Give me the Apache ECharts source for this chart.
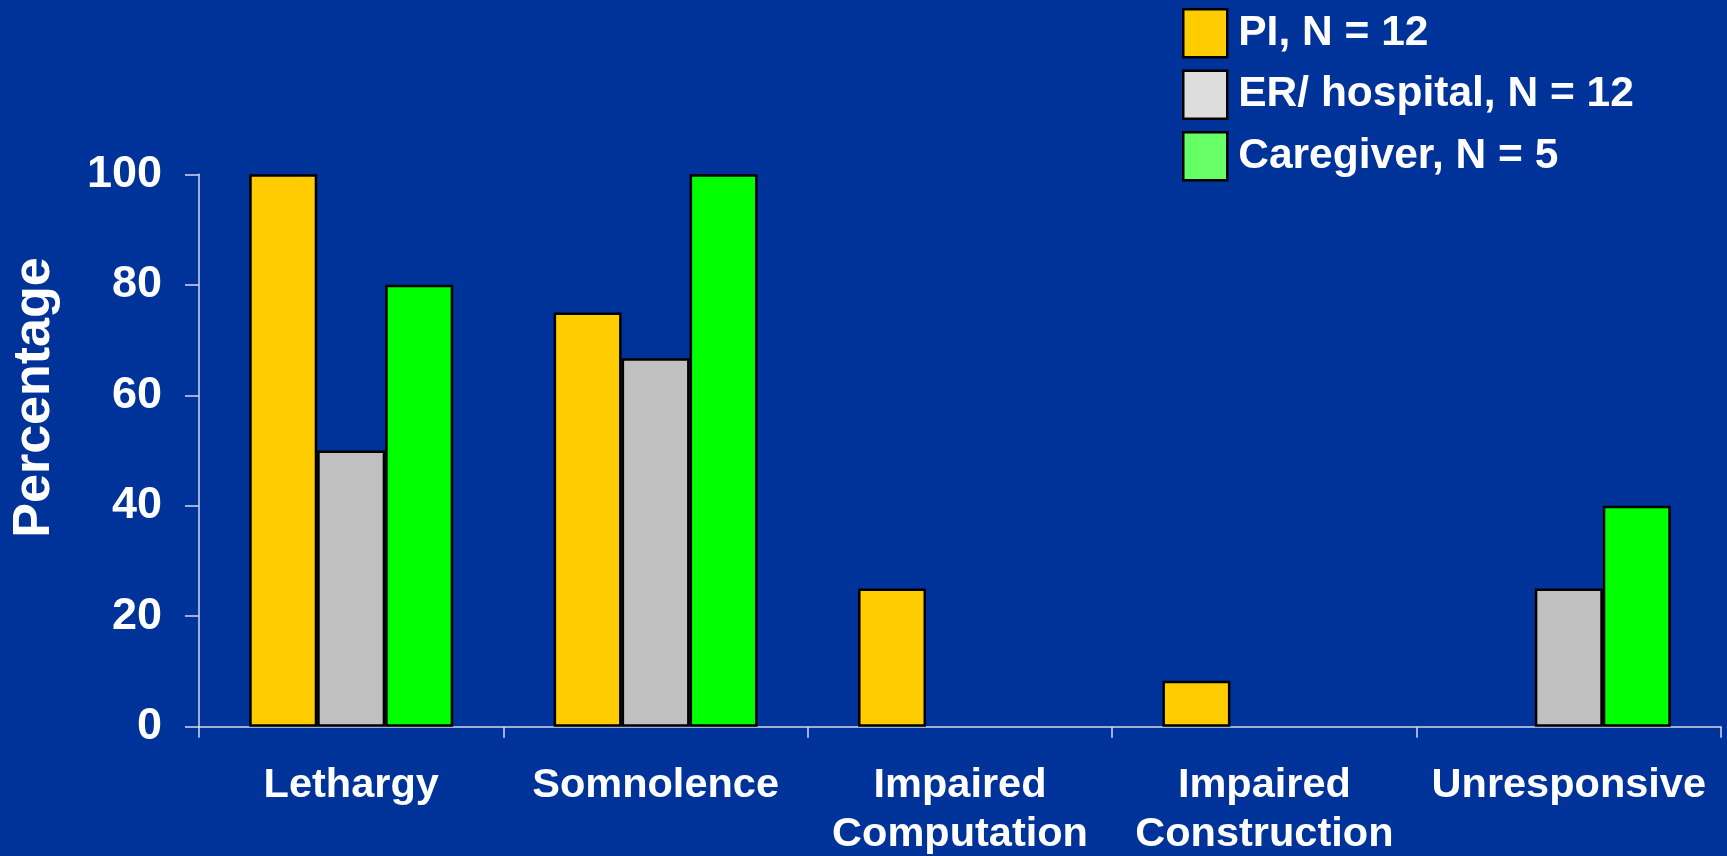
<!DOCTYPE html>
<html>
<head>
<meta charset="utf-8">
<title>Symptoms by reporter</title>
<script src="https://cdn.jsdelivr.net/npm/echarts@6/dist/echarts.min.js"></script>
<style>
  html, body { margin: 0; padding: 0; background: #003399; }
  #chart { width: 1727px; height: 856px; }
</style>
</head>
<body>
<div id="chart"></div>
<script>
// Symptom categories along the x axis
const categories = ['Lethargy', 'Somnolence', 'Impaired\nComputation', 'Impaired\nConstruction', 'Unresponsive'];

// Percentage of cases reporting each symptom, per reporter group
const seriesNames = ['PI, N = 12', 'ER/ hospital, N = 12', 'Caregiver, N = 5'];
const piValues = [100, 75, 25, 8.3, null];
const erValues = [50, 66.7, null, null, 25];
const caregiverValues = [80, 100, null, null, 40];

// Y axis ticks
const yTicks = [0, 20, 40, 60, 80, 100];

const barColors = ['#FFCC00', '#C0C0C0', '#00FF00'];
const legendColors = ['#FFCC00', '#DDDDDD', '#66FF66'];
const FONT = '"Liberation Sans", Arial, sans-serif';

const valueSets = [piValues, erValues, caregiverValues];

const chart = echarts.init(document.getElementById('chart'), null, { renderer: 'canvas' });

chart.setOption({
  backgroundColor: '#003399',
  animation: false,
  grid: { left: 199, right: 6, top: 174.3, bottom: 129.3, containLabel: false, outerBoundsMode: 'none' },
  legend: {
    orient: 'vertical',
    left: 1182,
    top: 8,
    padding: 0,
    itemWidth: 44,
    itemHeight: 48,
    itemGap: 11,
    icon: 'rect',
    selectedMode: false,
    textStyle: { color: '#ffffff', fontFamily: FONT, fontWeight: 'bold', fontSize: 42.5, padding: [0, 0, 0, 6] },
    data: seriesNames.map((n, i) => ({
      name: n,
      itemStyle: { color: legendColors[i], borderColor: '#000000', borderWidth: 2.5 }
    }))
  },
  xAxis: {
    type: 'category',
    data: categories,
    axisLine: { lineStyle: { color: '#d6d9ea', width: 1.5 } },
    axisTick: { show: true, alignWithLabel: false, length: 11, lineStyle: { color: '#d6d9ea', width: 1.5 } },
    axisLabel: {
      color: '#ffffff', fontFamily: FONT, fontWeight: 'bold', fontSize: 41.5,
      lineHeight: 49, margin: 34, interval: 0
    },
    splitLine: { show: false }
  },
  yAxis: {
    type: 'value',
    min: yTicks[0],
    max: yTicks[yTicks.length - 1],
    interval: yTicks[1] - yTicks[0],
    name: 'Percentage',
    nameLocation: 'middle',
    nameRotate: 90,
    nameGap: 138,
    nameTextStyle: { color: '#ffffff', fontFamily: FONT, fontWeight: 'bold', fontSize: 52, padding: [0, 0, 0, 106] },
    axisLine: { show: true, lineStyle: { color: '#d6d9ea', width: 1.5 } },
    axisTick: { show: true, inside: false, length: 14, lineStyle: { color: '#d6d9ea', width: 1.5 } },
    axisLabel: { color: '#ffffff', fontFamily: FONT, fontWeight: 'bold', fontSize: 45, margin: 37 },
    splitLine: { show: false }
  },
  series: seriesNames.map((n, i) => ({
    name: n,
    type: 'bar',
    data: valueSets[i],
    barGap: '0%',
    barCategoryGap: '33%',
    itemStyle: { color: barColors[i], borderColor: '#000000', borderWidth: 2.5 }
  }))
});
</script>
</body>
</html>
